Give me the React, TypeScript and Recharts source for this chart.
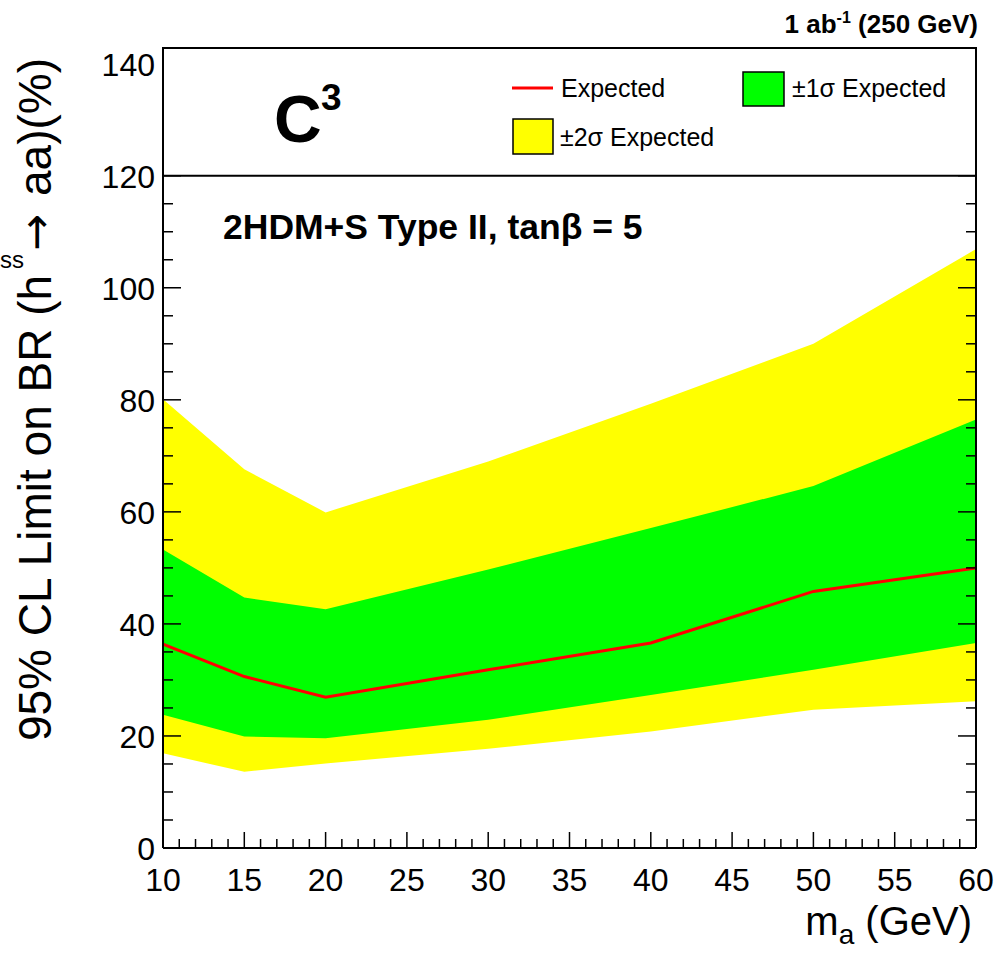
import React from 'react';
import { ComposedChart, Area, Line, XAxis, YAxis, ReferenceArea } from 'recharts';

// m_a points and limit bands (BR in %)
const MASS = [10, 15, 20, 30, 40, 50, 60];
const EXPECTED = [36.4, 30.6, 26.9, 31.8, 36.6, 45.8, 50.0];
const SIGMA1_LO = [23.8, 19.9, 19.6, 22.9, 27.3, 31.8, 36.6];
const SIGMA1_HI = [53.3, 44.7, 42.6, 49.7, 57.1, 64.6, 76.5];
const SIGMA2_LO = [16.9, 13.6, 15.1, 17.7, 20.8, 24.7, 26.2];
const SIGMA2_HI = [80.1, 67.6, 59.9, 69.0, 79.3, 90.0, 106.9];

const X_TICKS = Array.from({ length: 51 }, (_, i) => 10 + i);
const Y_TICKS = Array.from({ length: 29 }, (_, i) => i * 5);
const Y_MAX = 142.8;
const LEGEND_FLOOR = 120;

const data = MASS.map((m, i) => ({
  m,
  exp: EXPECTED[i],
  s1: [SIGMA1_LO[i], SIGMA1_HI[i]],
  s2: [SIGMA2_LO[i], SIGMA2_HI[i]],
}));

const FONT = '"Liberation Sans", Arial, Helvetica, sans-serif';

const XTick = (props: any) => {
  const { x, y, payload } = props;
  const v = payload.value;
  const major = v % 5 === 0;
  return (
    <g>
      <line x1={x} x2={x} y1={y} y2={y - (major ? 16 : 9)} stroke="#000" strokeWidth={1.5} />
      {major && (
        <text x={x} y={y + 43} textAnchor="middle" fontSize={32} fill="#000" fontFamily={FONT}>
          {v}
        </text>
      )}
    </g>
  );
};

const makeYTick = (side: 'left' | 'right') => (props: any) => {
  const { x, y, payload } = props;
  const v = payload.value;
  const major = v % 20 === 0;
  const dir = side === 'left' ? 1 : -1;
  return (
    <g>
      {v <= LEGEND_FLOOR && (
        <line x1={x} x2={x + dir * (major ? 18 : 10)} y1={y} y2={y} stroke="#000" strokeWidth={1.5} />
      )}
      {side === 'left' && major && (
        <text x={x - 8} y={y} dy={12} textAnchor="end" fontSize={32} fill="#000" fontFamily={FONT}>
          {v}
        </text>
      )}
    </g>
  );
};

export default function App() {
  return (
    <div style={{ position: 'absolute', left: 0, top: 0, width: 1000, height: 956, background: '#fff', fontFamily: FONT }}>
      <ComposedChart width={1000} height={956} data={data} margin={{ top: 48, right: 4, bottom: 48, left: 103 }}>
        <XAxis
          dataKey="m"
          type="number"
          domain={[10, 60]}
          ticks={X_TICKS}
          interval={0}
          height={60}
          tickSize={0}
          tickMargin={0}
          tickLine={false}
          tick={XTick}
          axisLine={{ stroke: '#000', strokeWidth: 2 }}
          allowDataOverflow
        />
        <YAxis
          yAxisId="left"
          type="number"
          domain={[0, Y_MAX]}
          ticks={Y_TICKS}
          interval={0}
          width={60}
          tickSize={0}
          tickMargin={0}
          tickLine={false}
          tick={makeYTick('left')}
          axisLine={{ stroke: '#000', strokeWidth: 2 }}
          allowDataOverflow
        />
        <YAxis
          yAxisId="right"
          orientation="right"
          type="number"
          domain={[0, Y_MAX]}
          ticks={Y_TICKS}
          interval={0}
          width={20}
          tickSize={0}
          tickMargin={0}
          tickLine={false}
          tick={makeYTick('right')}
          axisLine={{ stroke: '#000', strokeWidth: 2 }}
          allowDataOverflow
        />
        <Area yAxisId="left" type="linear" dataKey="s2" fill="#ffff00" fillOpacity={1} stroke="none" isAnimationActive={false} />
        <Area yAxisId="left" type="linear" dataKey="s1" fill="#00ff00" fillOpacity={1} stroke="none" isAnimationActive={false} />
        <Line yAxisId="left" type="linear" dataKey="exp" stroke="#ff0000" strokeWidth={3} dot={false} isAnimationActive={false} />
        <ReferenceArea yAxisId="left" x1={10} x2={60} y1={LEGEND_FLOOR} y2={Y_MAX} fill="#ffffff" fillOpacity={1} stroke="#000" strokeWidth={2} />
      </ComposedChart>

      <svg width={1000} height={956} style={{ position: 'absolute', left: 0, top: 0, pointerEvents: 'none' }} fontFamily={FONT}>
        {/* header */}
        <text x={978} y={33} textAnchor="end" fontSize={26} fontWeight="bold" fill="#000">
          1 ab<tspan fontSize={16} dy={-10}>-1</tspan>
          <tspan dy={10}> (250 GeV)</tspan>
        </text>

        {/* C^3 */}
        <text x={274} y={142} fontSize={66} fontWeight="bold" fill="#000">C</text>
        <text x={321} y={110} fontSize={37} fontWeight="bold" fill="#000">3</text>

        {/* legend */}
        <line x1={512} x2={553} y1={88} y2={88} stroke="#ff0000" strokeWidth={3} />
        <text x={561} y={97} fontSize={25} fill="#000">Expected</text>
        <rect x={743} y={72} width={41} height={34} fill="#00ff00" stroke="#000" strokeWidth={1.5} />
        <text x={792} y={97} fontSize={25} fill="#000">±1σ Expected</text>
        <rect x={513} y={119} width={40} height={35} fill="#ffff00" stroke="#000" strokeWidth={1.5} />
        <text x={560} y={146} fontSize={25} fill="#000">±2σ Expected</text>

        {/* model label */}
        <text x={223} y={239} fontSize={35.5} fontWeight="bold" fill="#000">2HDM+S Type II, tanβ = 5</text>

        {/* axis titles */}
        <text transform="translate(51,58) rotate(-90)" textAnchor="end" fontSize={46} fill="#000">
          <tspan>{'95% CL Limit on BR (h'}</tspan>
          <tspan dx={24} fontFamily="DejaVu Sans" fontSize={44}>→</tspan>
          <tspan dx={18}>aa)(%)</tspan>
        </text>
        <text x={0} y={268} fontSize={24} fill="#000">ss</text>
        <text x={972} y={935} textAnchor="end" fontSize={40} fill="#000">
          m<tspan fontSize={28} dy={9}>a</tspan>
          <tspan dy={-9}> (GeV)</tspan>
        </text>
      </svg>
    </div>
  );
}
